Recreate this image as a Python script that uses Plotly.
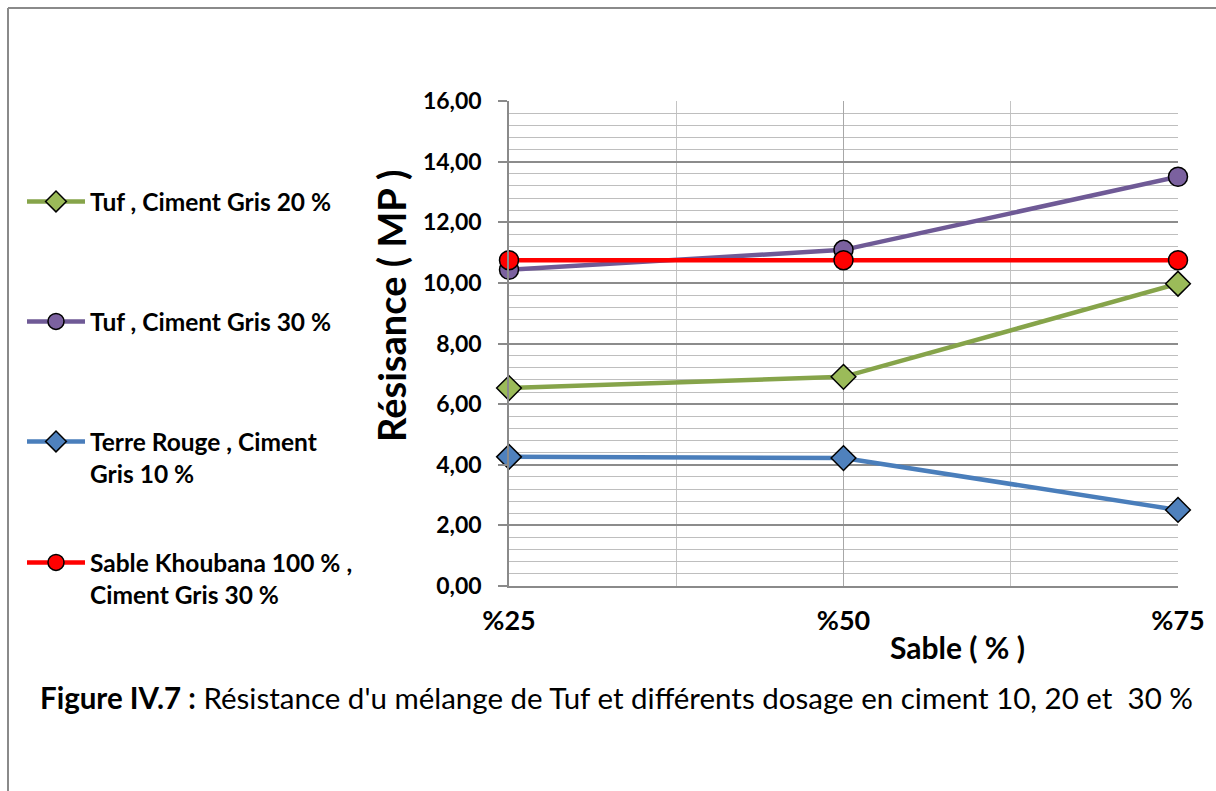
import plotly.graph_objects as go

categories = ["%25", "%50", "%75"]
tuf20 = [6.53, 6.90, 9.97]
tuf30 = [10.43, 11.09, 13.50]
terre10 = [4.26, 4.22, 2.51]
sable100 = [10.75, 10.75, 10.75]

names = ["Tuf , Ciment Gris 20 %", "Tuf , Ciment Gris 30 %",
         "Terre Rouge , Ciment<br>Gris 10 %", "Sable Khoubana 100 % ,<br>Ciment Gris 30 %"]

W, H = 1216, 791
L, R, T, B = 509, 1178, 101, 586
pw, ph = R - L, B - T

def px(x):
    return (x - L) / pw

def py(y):
    return (B - y) / ph

FONT = "Lato, 'Noto Sans', sans-serif"
xs = list(range(len(categories)))

series = [
    (tuf20, names[0], "#86A44A", "#9BBB59", "diamond", 19, "legend"),
    (tuf30, names[1], "#6F5A96", "#7B619F", "circle", 19, "legend2"),
    (terre10, names[2], "#4A7EBB", "#4F81BD", "diamond", 19, "legend3"),
    (sable100, names[3], "#FF0000", "#FF0000", "circle", 19, "legend4"),
]

fig = go.Figure()
for vals, nm, lc, mc, sym, sz, lg in series:
    fig.add_trace(go.Scatter(
        x=xs, y=vals, name=nm, mode="lines+markers",
        line=dict(color=lc, width=4.5),
        marker=dict(symbol=sym, size=sz, color=mc, line=dict(color="black", width=1.5)),
        cliponaxis=False, legend=lg,
    ))

leg_common = dict(font=dict(family=FONT, size=24.5, color="black", weight="bold"),
                  bgcolor="rgba(0,0,0,0)", itemwidth=58, xanchor="left", yanchor="top",
                  valign="top", itemclick=False, itemdoubleclick=False)
leg_tops = [179, 299, 419, 540]
legkeys = ["legend", "legend2", "legend3", "legend4"]
layout_legends = {}
for k, t in zip(legkeys, leg_tops):
    layout_legends[k] = dict(x=px(22), y=py(t), **leg_common)

fig.update_layout(
    width=W, height=H,
    margin=dict(l=L, r=W - R, t=T, b=H - B),
    paper_bgcolor="white", plot_bgcolor="white",
    separators=", ",
    showlegend=True,
    **layout_legends,
    xaxis=dict(
        range=[0, len(categories) - 1], tickmode="array", tickvals=xs, ticktext=categories,
        showgrid=True, gridcolor="#A8A8A8", gridwidth=1.2,
        minor=dict(tickmode="array", tickvals=[0.5, 1.5], showgrid=True, gridcolor="#C4C4C4", gridwidth=1.2),
        showline=True, linecolor="#8A8A8A", linewidth=1.5,
        ticks="", tickfont=dict(family=FONT, size=27, color="black", weight="bold"),
        ticklabelstandoff=10, zeroline=False,
    ),
    yaxis=dict(
        range=[0, 16], dtick=2, tickformat=".2f",
        showgrid=True, gridcolor="#8C8C8C", gridwidth=1.5,
        minor=dict(dtick=0.4, showgrid=True, gridcolor="#BEBEBE", gridwidth=1.2),
        showline=True, linecolor="#8A8A8A", linewidth=1.5,
        ticks="outside", ticklen=9, tickcolor="#8A8A8A", tickwidth=1.5,
        tickfont=dict(family=FONT, size=23, color="black", weight="bold"),
        ticklabelstandoff=12, zeroline=False,
    ),
    shapes=[
        dict(type="line", xref="paper", yref="paper", x0=px(8), x1=px(1216), y0=py(8), y1=py(8),
             line=dict(color="#8A8A8A", width=2)),
        dict(type="line", xref="paper", yref="paper", x0=px(8), x1=px(8), y0=py(8), y1=py(791),
             line=dict(color="#8A8A8A", width=2)),
    ],
    annotations=[
        dict(text="Sable ( % )", xref="paper", yref="paper", x=px(957), y=py(647),
             xanchor="center", yanchor="middle", showarrow=False,
             font=dict(family=FONT, size=30, color="black", weight="bold")),
        dict(text="Résisance ( MP )", xref="paper", yref="paper", x=px(391), y=py(306),
             xanchor="center", yanchor="middle", showarrow=False, textangle=-90,
             font=dict(family=FONT, size=38, color="black", weight="bold")),
        dict(text="<b>Figure IV.7 :</b> Résistance d'u mélange de Tuf et différents dosage en ciment 10, 20 et  30 %",
             xref="paper", yref="paper", x=px(616), y=py(697),
             xanchor="center", yanchor="middle", showarrow=False,
             font=dict(family=FONT, size=29.5, color="black")),
    ],
)

fig.write_html("out.html")
